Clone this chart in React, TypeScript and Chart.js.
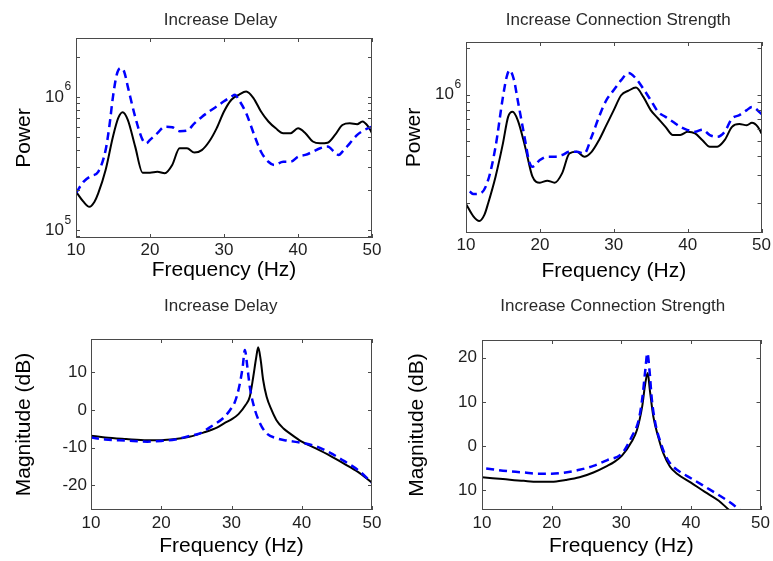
import React, { useEffect, useRef } from "react";
import { Chart, registerables } from "chart.js";

Chart.register(...registerables);

// ---------------- data ----------------
const FREQ_TICKS = [10, 20, 30, 40, 50];

const POWER_LABEL_VALUES = [1e5, 1e6];
const POWER_LABEL_BASE = "10";
const POWER_LABEL_EXPONENTS = ["5", "6"];

const MAG_DELAY_TICKS = [-20, -10, 0, 10];
const MAG_DELAY_LABELS = ["-20", "-10", "0", "10"];

const MAG_STRENGTH_TICKS = [-10, 0, 10, 20];
const MAG_STRENGTH_LABELS = ["10", "0", "10", "20"];

const TITLE_DELAY = "Increase Delay";
const TITLE_STRENGTH = "Increase Connection Strength";
const X_TITLE = "Frequency (Hz)";
const Y_POWER = "Power";
const Y_MAG = "Magnitude (dB)";

// Panel 1: Increase Delay, power spectrum
const delayPowerBaseFreq = [10, 11, 11.8, 12.5, 13, 14, 15, 15.7, 16.3, 17, 18, 19, 20, 21, 22, 23, 24, 25, 26, 27, 28, 29, 30, 31, 32, 33, 34, 35, 36, 37, 38, 39, 40, 41, 42, 43, 44, 45, 46, 47, 48, 48.7, 49.5, 50];
const delayPowerBase = [1.95e5, 1.64e5, 1.5e5, 1.64e5, 1.89e5, 2.83e5, 5.06e5, 6.95e5, 7.7e5, 6.75e5, 4.25e5, 2.71e5, 2.71e5, 2.75e5, 2.68e5, 3.09e5, 4.13e5, 4.13e5, 3.83e5, 4.0e5, 4.64e5, 5.83e5, 7.8e5, 9.55e5, 1.04e6, 1.1e6, 9.8e5, 7.8e5, 6.56e5, 5.83e5, 5.36e5, 5.36e5, 5.83e5, 5.36e5, 4.64e5, 4.5e5, 4.55e5, 5.2e5, 6.18e5, 6.36e5, 6.26e5, 6.56e5, 6.0e5, 5.36e5];
const delayPowerModFreq = [10, 11, 12, 13, 14, 14.5, 15, 15.5, 16, 16.5, 17, 18, 19, 19.5, 20, 21, 22, 23, 24, 25, 26, 27, 28, 29, 30, 31, 31.5, 32, 33, 34, 35, 36, 36.8, 38, 39, 40, 41, 42, 43, 44, 45, 45.5, 46, 47, 48, 49, 50];
const delayPowerMod = [1.9e5, 2.31e5, 2.55e5, 2.75e5, 4.0e5, 6.0e5, 1.01e6, 1.47e6, 1.65e6, 1.56e6, 1.2e6, 7.1e5, 4.77e5, 4.5e5, 4.77e5, 5.36e5, 6.0e5, 5.95e5, 5.55e5, 5.6e5, 6.36e5, 7.1e5, 7.8e5, 8.5e5, 9.3e5, 1.01e6, 1.04e6, 9.55e5, 7.57e5, 5.36e5, 3.89e5, 3.27e5, 3.09e5, 3.27e5, 3.27e5, 3.57e5, 3.68e5, 3.89e5, 4.13e5, 4.25e5, 3.83e5, 3.68e5, 3.89e5, 4.5e5, 5.2e5, 5.67e5, 6.0e5];

// Panel 2: Increase Connection Strength, power spectrum
const strengthPowerBaseFreq = [10, 11, 11.8, 12.5, 13, 14, 15, 15.7, 16.3, 17, 18, 19, 20, 21, 22, 23, 24, 25, 26, 27, 28, 29, 30, 31, 32, 33, 34, 35, 36, 37, 38, 39, 40, 41, 42, 43, 44, 45, 46, 47, 48, 48.7, 49.5, 50];
const strengthPowerBase = [1.96e5, 1.63e5, 1.52e5, 1.67e5, 1.98e5, 2.94e5, 4.83e5, 7.17e5, 7.73e5, 6.83e5, 4.6e5, 2.94e5, 2.69e5, 2.77e5, 2.69e5, 3.09e5, 4.16e5, 4.26e5, 3.96e5, 4.26e5, 5.07e5, 6.34e5, 7.93e5, 9.9e5, 1.06e6, 1.11e6, 9.66e5, 7.93e5, 7.0e5, 6.18e5, 5.47e5, 5.47e5, 5.74e5, 5.6e5, 5.07e5, 4.6e5, 4.6e5, 5.07e5, 6.18e5, 6.44e5, 6.34e5, 6.56e5, 6.18e5, 5.6e5];
const strengthPowerModFreq = [10.5, 11, 12, 13, 14, 15, 15.5, 15.9, 16.5, 17, 18, 18.5, 19, 20, 21, 22, 23, 24, 25, 26, 27, 28, 29, 30, 31, 32, 33, 34, 35, 36, 37, 38, 39, 40, 41, 42, 43, 44, 45, 46, 47, 48, 48.7, 50];
const strengthPowerMod = [2.36e5, 2.27e5, 2.3e5, 2.8e5, 4.6e5, 9.66e5, 1.3e6, 1.44e6, 1.24e6, 9.2e5, 5.07e5, 3.77e5, 3.41e5, 3.77e5, 3.96e5, 3.96e5, 4.06e5, 4.26e5, 4.26e5, 4.16e5, 5.33e5, 7.17e5, 9.2e5, 1.07e6, 1.24e6, 1.38e6, 1.27e6, 1.09e6, 9.2e5, 7.73e5, 7.17e5, 6.67e5, 6.18e5, 5.89e5, 5.74e5, 5.93e5, 5.47e5, 5.33e5, 5.74e5, 7.0e5, 7.36e5, 7.93e5, 8.32e5, 7.5e5];

// Panel 3: Increase Delay, transfer function magnitude
const delayMagBaseFreq = [10, 12, 15, 18, 20, 22, 24, 26, 28, 29, 30, 31, 32, 32.6, 33.1, 33.5, 33.8, 34.15, 34.5, 35, 35.7, 36.4, 37.4, 38.3, 39.5, 40, 42, 44, 46, 48, 50];
const delayMagBase = [-6.8, -7.3, -7.7, -8.0, -8.0, -7.7, -7.1, -6.0, -4.6, -3.5, -2.5, -1.1, 1.3, 3.5, 8.8, 13.7, 16.6, 13.3, 8.0, 3.5, 0, -2.7, -4.9, -6.2, -7.8, -8.4, -10.2, -12.1, -14.2, -16.4, -19.3];
const delayMagModFreq = [10, 12, 15, 18, 20, 22, 24, 25.5, 27.4, 28.8, 29.8, 30.5, 31.1, 31.6, 31.9, 32.25, 32.6, 33.2, 34.05, 35, 36.4, 37.85, 40, 42, 44, 46, 48, 50];
const delayMagMod = [-7.3, -7.8, -8.1, -8.4, -8.2, -7.8, -6.9, -6.2, -4.0, -2.2, 0, 2.2, 6.2, 11.5, 15.9, 11.5, 6.2, 0.9, -3.5, -6.2, -7.5, -8.1, -8.7, -9.6, -11.3, -13.5, -15.9, -19.3];

// Panel 4: Increase Connection Strength, transfer function magnitude
const strengthMagBaseFreq = [10, 13, 16, 18, 20, 22, 24, 26, 28, 29, 30.1, 31.5, 32.25, 33, 33.45, 33.8, 34.1, 34.6, 35.3, 36.05, 37, 38, 40, 42, 44, 45.5, 47, 50];
const strengthMagBase = [-7.1, -7.5, -7.9, -8.1, -8.1, -7.7, -7.1, -6.0, -4.5, -3.6, -2.2, 1.0, 3.6, 8.9, 14.2, 16.5, 12.7, 6.7, 2.1, -1.7, -4.7, -6.3, -8.3, -10.4, -12.4, -14.5, -16.2, -19.5];
const strengthMagModFreq = [10.6, 13, 16, 18, 20, 22, 24, 26, 28, 30.1, 31.5, 32.5, 33.05, 33.45, 33.75, 34.05, 34.4, 34.9, 35.6, 36.3, 37, 38, 40, 42, 44, 46, 47, 50];
const strengthMagMod = [-5.1, -5.6, -6.0, -6.3, -6.3, -6.0, -5.4, -4.5, -3.2, -1.7, 2.1, 5.9, 11.2, 17.2, 21.0, 17.2, 10.4, 5.1, 1.0, -2.0, -3.9, -5.4, -7.3, -9.2, -11.1, -13.2, -14.5, -17.5];

// ---------------- styling / layout ----------------
const SANS = '"Liberation Sans", Arial, Helvetica, sans-serif';
const TICK_COLOR = "#1e1e1e";
const BOX_COLOR = "#4a4a4a";

let cachedTitleFont: { family: string; size: number } | null = null;
function axisTitleFont() {
  if (cachedTitleFont) return cachedTitleFont;
  let narrow = false;
  try {
    const ctx = document.createElement("canvas").getContext("2d")!;
    ctx.font = '25px "Liberation Sans Narrow", monospace';
    const a = ctx.measureText(X_TITLE).width;
    ctx.font = "25px monospace";
    const b = ctx.measureText(X_TITLE).width;
    narrow = Math.abs(a - b) > 1;
  } catch (e) {
    narrow = false;
  }
  cachedTitleFont = narrow
    ? { family: '"Liberation Sans Narrow", "Arial Narrow", sans-serif', size: 25 }
    : { family: SANS, size: 21 };
  return cachedTitleFont;
}

function toXY(f: number[], v: number[]) {
  return f.map((x, i) => ({ x, y: v[i] }));
}

function logMinorTicks(min: number, max: number) {
  const out: { value: number }[] = [];
  for (let n = Math.floor(Math.log10(min)); n <= Math.ceil(Math.log10(max)); n++) {
    for (let k = 1; k <= 9; k++) {
      const v = k * Math.pow(10, n);
      if (v >= min && v <= max) out.push({ value: v });
    }
  }
  return out;
}

function powerLabelIndex(value: number) {
  return POWER_LABEL_VALUES.findIndex((v) => Math.abs(v - value) < v * 1e-9);
}

const EXP_GAP = 12;

const matlabAxes = {
  id: "matlabAxes",
  afterDraw(chart: any, _args: any, opts: any) {
    const { ctx, chartArea: a } = chart;
    const xs = chart.scales.x;
    const ys = chart.scales.y;
    const len = 4;
    ctx.save();
    ctx.strokeStyle = BOX_COLOR;
    ctx.lineWidth = 1;
    ctx.beginPath();
    for (const t of xs.ticks) {
      const px = Math.round(xs.getPixelForValue(t.value)) + 0.5;
      ctx.moveTo(px, a.bottom);
      ctx.lineTo(px, a.bottom - len);
      ctx.moveTo(px, a.top);
      ctx.lineTo(px, a.top + len);
    }
    for (const t of ys.ticks) {
      const py = Math.round(ys.getPixelForValue(t.value)) + 0.5;
      ctx.moveTo(a.left, py);
      ctx.lineTo(a.left + len, py);
      ctx.moveTo(a.right, py);
      ctx.lineTo(a.right - len, py);
    }
    ctx.stroke();
    ctx.strokeRect(Math.round(a.left) + 0.5, Math.round(a.top) + 0.5, Math.round(a.right - a.left) - 1, Math.round(a.bottom - a.top) - 1);

    // exponents of the log-axis labels (10^n)
    if (opts.log) {
      ctx.fillStyle = TICK_COLOR;
      ctx.font = `12px ${SANS}`;
      ctx.textAlign = "left";
      ctx.textBaseline = "middle";
      for (const t of ys.ticks) {
        const i = powerLabelIndex(t.value);
        if (i < 0) continue;
        const py = ys.getPixelForValue(t.value);
        ctx.fillText(POWER_LABEL_EXPONENTS[i], a.left - EXP_GAP + 0.5, py - 10);
      }
    }

    // panel title
    ctx.fillStyle = "#2a2a2a";
    ctx.font = `17px ${SANS}`;
    ctx.textAlign = "center";
    ctx.textBaseline = "alphabetic";
    ctx.fillText(opts.text, opts.x, opts.y);
    ctx.restore();
  },
};

type PanelCfg = {
  left: number;
  top: number;
  w: number;
  h: number;
  plot: { l: number; r: number; t: number; b: number };
  title: string;
  titleX: number;
  titleY: number;
  xTickPad: number;
  xTitleY: number;
  yTitleX: number;
  yTickPad: number;
  yTitle: string;
  log: boolean;
  ymin: number;
  ymax: number;
  yTicks?: number[];
  yLabels?: string[];
  baseF: number[];
  baseV: number[];
  modF: number[];
  modV: number[];
};

const PANELS: PanelCfg[] = [
  {
    left: 0, top: 0, w: 390, h: 290,
    plot: { l: 76, r: 372, t: 38, b: 238 },
    title: TITLE_DELAY, titleX: 220.5, titleY: 25,
    xTickPad: 2, xTitleY: 270.3, yTitleX: 24.7, yTickPad: EXP_GAP,
    yTitle: Y_POWER, log: true, ymin: 8.75e4, ymax: 2.78e6,
    baseF: delayPowerBaseFreq, baseV: delayPowerBase, modF: delayPowerModFreq, modV: delayPowerMod,
  },
  {
    left: 390, top: 0, w: 383, h: 290,
    plot: { l: 76, r: 373, t: 42, b: 233 },
    title: TITLE_STRENGTH, titleX: 228.3, titleY: 25,
    xTickPad: 2, xTitleY: 270.8, yTitleX: 24.7, yTickPad: EXP_GAP,
    yTitle: Y_POWER, log: true, ymin: 1.27e5, ymax: 2.19e6,
    baseF: strengthPowerBaseFreq, baseV: strengthPowerBase, modF: strengthPowerModFreq, modV: strengthPowerMod,
  },
  {
    left: 0, top: 290, w: 390, h: 271,
    plot: { l: 91, r: 372, t: 49, b: 220 },
    title: TITLE_DELAY, titleX: 220.7, titleY: 20.7,
    xTickPad: 3, xTitleY: 255.8, yTitleX: 24.2, yTickPad: 4,
    yTitle: Y_MAG, log: false, ymin: -26.5, ymax: 18.8,
    yTicks: MAG_DELAY_TICKS, yLabels: MAG_DELAY_LABELS,
    baseF: delayMagBaseFreq, baseV: delayMagBase, modF: delayMagModFreq, modV: delayMagMod,
  },
  {
    left: 390, top: 290, w: 383, h: 271,
    plot: { l: 92, r: 373, t: 50, b: 220 },
    title: TITLE_STRENGTH, titleX: 222.8, titleY: 20.7,
    xTickPad: 3, xTitleY: 255.8, yTitleX: 27.5, yTickPad: 5,
    yTitle: Y_MAG, log: false, ymin: -14.5, ymax: 24,
    yTicks: MAG_STRENGTH_TICKS, yLabels: MAG_STRENGTH_LABELS,
    baseF: strengthMagBaseFreq, baseV: strengthMagBase, modF: strengthMagModFreq, modV: strengthMagMod,
  },
];

function buildConfig(p: PanelCfg): any {
  const tf = axisTitleFont();
  const tickFont = { family: SANS, size: 17 };
  const yScale: any = {
    type: p.log ? "logarithmic" : "linear",
    position: "left",
    min: p.ymin,
    max: p.ymax,
    grid: { display: false, drawTicks: false },
    border: { display: false },
    afterFit: (s: any) => {
      s.width = p.plot.l;
    },
    afterBuildTicks: (s: any) => {
      s.ticks = p.log ? logMinorTicks(p.ymin, p.ymax) : (p.yTicks || []).map((v) => ({ value: v }));
    },
    ticks: {
      autoSkip: false,
      padding: p.yTickPad,
      font: tickFont,
      color: TICK_COLOR,
      callback: (value: number) => {
        if (p.log) {
          return powerLabelIndex(value) >= 0 ? POWER_LABEL_BASE : "";
        }
        const j = (p.yTicks || []).indexOf(value);
        return j >= 0 ? (p.yLabels || [])[j] : "";
      },
    },
    title: {
      display: true,
      text: p.yTitle,
      color: "#000",
      font: { family: tf.family, size: tf.size, lineHeight: 1 },
      padding: { top: p.yTitleX - tf.size / 2, bottom: 0 },
    },
  };
  return {
    type: "line",
    data: {
      datasets: [
        {
          data: toXY(p.modF, p.modV),
          borderColor: "#0000ff",
          borderWidth: 2.5,
          borderDash: [8, 5],
          pointRadius: 0,
          cubicInterpolationMode: "monotone",
          fill: false,
        },
        {
          data: toXY(p.baseF, p.baseV),
          borderColor: "#000000",
          borderWidth: 2,
          pointRadius: 0,
          cubicInterpolationMode: "monotone",
          fill: false,
        },
      ],
    },
    options: {
      responsive: false,
      maintainAspectRatio: false,
      animation: false,
      devicePixelRatio: 1,
      layout: { padding: { top: p.plot.t, right: p.w - p.plot.r, left: 0, bottom: 0 } },
      plugins: {
        legend: { display: false },
        tooltip: { enabled: false },
        matlabAxes: { text: p.title, x: p.titleX, y: p.titleY, log: p.log },
      },
      scales: {
        x: {
          type: "linear",
          min: 10,
          max: 50,
          grid: { display: false, drawTicks: false },
          border: { display: false },
          afterFit: (s: any) => {
            s.height = p.h - p.plot.b;
          },
          afterBuildTicks: (s: any) => {
            s.ticks = FREQ_TICKS.map((v) => ({ value: v }));
          },
          ticks: {
            autoSkip: false,
            maxRotation: 0,
            padding: p.xTickPad,
            font: tickFont,
            color: TICK_COLOR,
            callback: (value: number) => String(value),
          },
          title: {
            display: true,
            text: X_TITLE,
            color: "#000",
            font: { family: tf.family, size: tf.size, lineHeight: 1 },
            padding: { top: 0, bottom: Math.max(0, p.h - p.xTitleY - tf.size / 2) },
          },
        },
        y: yScale,
      },
    },
    plugins: [matlabAxes],
  };
}

function Panel({ cfg }: { cfg: PanelCfg }) {
  const ref = useRef<HTMLCanvasElement>(null);
  useEffect(() => {
    if (!ref.current) return;
    const chart = new Chart(ref.current, buildConfig(cfg));
    return () => chart.destroy();
  }, [cfg]);
  return (
    <canvas
      ref={ref}
      width={cfg.w}
      height={cfg.h}
      style={{ position: "absolute", left: cfg.left, top: cfg.top, width: cfg.w, height: cfg.h }}
    />
  );
}

export default function App() {
  return (
    <div style={{ position: "absolute", left: 0, top: 0, width: 773, height: 561, background: "#ffffff", overflow: "hidden" }}>
      {PANELS.map((p, i) => (
        <Panel key={i} cfg={p} />
      ))}
    </div>
  );
}
